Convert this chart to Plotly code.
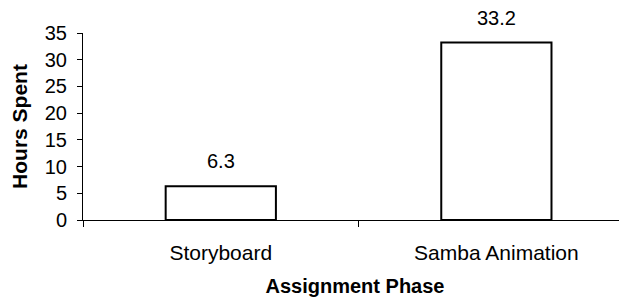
import plotly.graph_objects as go

categories = ["Storyboard", "Samba Animation"]
hours = [6.3, 33.2]
y_ticks = [0, 5, 10, 15, 20, 25, 30, 35]

FONT = "Arial, Liberation Sans, sans-serif"

fig = go.Figure(go.Bar(
    x=categories, y=hours, width=0.4,
    marker=dict(color="white", line=dict(color="black", width=2)),
))

for c, v in zip(categories, hours):
    fig.add_annotation(x=c, y=v, text=f"{v}", showarrow=False,
                       yanchor="bottom", yshift=12,
                       font=dict(family=FONT, size=20, color="black"))

fig.update_layout(
    width=627, height=298,
    margin=dict(l=75, r=8, t=25, b=86),
    paper_bgcolor="white", plot_bgcolor="white",
    font=dict(family=FONT, size=20, color="black"),
    showlegend=False,
    xaxis=dict(
        range=[-0.5, 1.474], showline=True, linecolor="black", linewidth=1,
        ticks="outside", tickson="boundaries", ticklen=6, tickcolor="black",
        showgrid=False, zeroline=False, automargin=False,
        ticklabelstandoff=14, tickfont=dict(size=21),
        title=dict(text="<b>Assignment Phase</b>", font=dict(size=20), standoff=15),
    ),
    yaxis=dict(
        range=[0, 35], tickvals=y_ticks, showline=True, linecolor="black", linewidth=1,
        ticks="outside", ticklen=5, tickcolor="black", showgrid=False, zeroline=False,
        automargin=False, ticklabelstandoff=6,
        title=dict(text="<b>Hours Spent</b>", font=dict(size=21), standoff=14),
    ),
)

fig.write_html("out.html")
